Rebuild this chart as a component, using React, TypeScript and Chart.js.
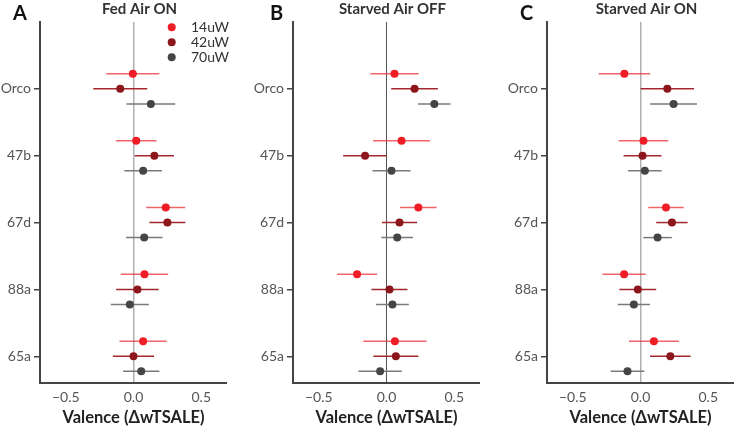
import React, { useEffect, useRef } from "react";
import { Chart, registerables } from "chart.js";

Chart.register(...registerables);

const categories = ["Orco", "47b", "67d", "88a", "65a"];
const seriesLabels = ["14uW", "42uW", "70uW"];
const xTicks = [-0.5, 0, 0.5];

// Panel A: Fed Air ON
const fedOn14Mean = [-0.005, 0.02, 0.238, 0.081, 0.071];
const fedOn14Err = [0.196, 0.15, 0.144, 0.175, 0.174];
const fedOn42Mean = [-0.098, 0.154, 0.25, 0.029, 0.0];
const fedOn42Err = [0.199, 0.145, 0.133, 0.157, 0.152];
const fedOn70Mean = [0.128, 0.071, 0.079, -0.027, 0.057];
const fedOn70Err = [0.18, 0.139, 0.135, 0.14, 0.134];

// Panel B: Starved Air OFF
const starvedOff14Mean = [0.059, 0.111, 0.235, -0.217, 0.062];
const starvedOff14Err = [0.178, 0.21, 0.135, 0.148, 0.234];
const starvedOff42Mean = [0.207, -0.158, 0.096, 0.022, 0.069];
const starvedOff42Err = [0.172, 0.162, 0.13, 0.133, 0.166];
const starvedOff70Mean = [0.353, 0.037, 0.079, 0.044, -0.047];
const starvedOff70Err = [0.12, 0.14, 0.117, 0.121, 0.16];

// Panel C: Starved Air ON
const starvedOn14Mean = [-0.119, 0.022, 0.188, -0.121, 0.099];
const starvedOn14Err = [0.19, 0.183, 0.131, 0.16, 0.184];
const starvedOn42Mean = [0.198, 0.015, 0.232, -0.02, 0.22];
const starvedOn42Err = [0.197, 0.14, 0.116, 0.136, 0.15];
const starvedOn70Mean = [0.244, 0.032, 0.126, -0.049, -0.096];
const starvedOn70Err = [0.173, 0.124, 0.105, 0.119, 0.124];

const FONT = 'Lato, "Noto Sans", sans-serif';
const pointColors = ["#ee1d26", "#8c161b", "#454545"];
const barColors = ["rgba(236,40,48,0.72)", "#a3282d", "#7a7a7a"];
const yOffsets = [-0.225, 0, 0.225];

const errorBarPlugin = {
  id: "errorBars",
  beforeDatasetsDraw(chart: any) {
    const { ctx } = chart;
    const x = chart.scales.x;
    const y = chart.scales.y;
    chart.data.datasets.forEach((ds: any, i: number) => {
      const meta = chart.getDatasetMeta(i);
      if (meta.hidden) return;
      ctx.save();
      ctx.strokeStyle = ds.errorColor;
      ctx.lineWidth = 1.5;
      ds.data.forEach((p: any) => {
        const py = y.getPixelForValue(p.y);
        ctx.beginPath();
        ctx.moveTo(x.getPixelForValue(p.x - p.err), py);
        ctx.lineTo(x.getPixelForValue(p.x + p.err), py);
        ctx.stroke();
      });
      ctx.restore();
    });
  },
};

const decoPlugin = {
  id: "panelDeco",
  afterDraw(chart: any, _args: any, opts: any) {
    const { ctx, chartArea } = chart;
    ctx.save();
    ctx.fillStyle = "#111";
    ctx.font = `bold 20px ${FONT}`;
    ctx.textBaseline = "middle";
    ctx.textAlign = "left";
    ctx.fillText(opts.letter, opts.letterX, 14);
    ctx.fillStyle = "#333";
    ctx.font = `bold 15px ${FONT}`;
    ctx.textAlign = "center";
    ctx.fillText(opts.title, (chartArea.left + chartArea.right) / 2 + 6, 9);
    if (opts.legend) {
      ctx.font = `14px ${FONT}`;
      ctx.textAlign = "left";
      chart.data.datasets.forEach((ds: any, i: number) => {
        const cy = 27.3 + 15 * i;
        ctx.fillStyle = ds.backgroundColor;
        ctx.beginPath();
        ctx.arc(chartArea.left + 131.7, cy, 4, 0, Math.PI * 2);
        ctx.fill();
        ctx.fillStyle = "#333";
        ctx.fillText(ds.label, chartArea.left + 151, cy + 0.5);
      });
    }
    ctx.restore();
  },
};

function buildData(means: number[][], errs: number[][]) {
  return seriesLabels.map((label, s) => ({
    label,
    data: categories.map((_, i) => ({
      x: means[s][i],
      y: i + yOffsets[s],
      err: errs[s][i],
    })),
    backgroundColor: pointColors[s],
    borderColor: pointColors[s],
    pointRadius: 4,
    pointBorderWidth: 0,
    pointHoverRadius: 4,
    errorColor: barColors[s],
    showLine: false,
  }));
}

const panels = [
  {
    key: "A",
    letter: "A",
    letterX: 13,
    left: 0,
    title: "Fed Air ON",
    zeroColor: "#b0b0b0",
    zeroWidth: 1.5,
    legend: true,
    means: [fedOn14Mean, fedOn42Mean, fedOn70Mean],
    errs: [fedOn14Err, fedOn42Err, fedOn70Err],
  },
  {
    key: "B",
    letter: "B",
    letterX: 17,
    left: 253,
    title: "Starved Air OFF",
    zeroColor: "#555555",
    zeroWidth: 1,
    legend: false,
    means: [starvedOff14Mean, starvedOff42Mean, starvedOff70Mean],
    errs: [starvedOff14Err, starvedOff42Err, starvedOff70Err],
  },
  {
    key: "C",
    letter: "C",
    letterX: 13,
    left: 507,
    title: "Starved Air ON",
    zeroColor: "#b0b0b0",
    zeroWidth: 1.5,
    legend: false,
    means: [starvedOn14Mean, starvedOn42Mean, starvedOn70Mean],
    errs: [starvedOn14Err, starvedOn42Err, starvedOn70Err],
  },
];

const CW = 245;

function Panel({ p }: { p: any }) {
  const ref = useRef<HTMLCanvasElement>(null);
  useEffect(() => {
    if (!ref.current) return;
    const chart = new Chart(ref.current, {
      type: "scatter",
      data: { datasets: buildData(p.means, p.errs) as any },
      options: {
        animation: false,
        responsive: false,
        layout: { padding: { top: 22, left: 0, right: 18, bottom: 0 } },
        plugins: {
          legend: { display: false },
          tooltip: { enabled: false },
          title: { display: false },
          panelDeco: { letter: p.letter, letterX: p.letterX, title: p.title, legend: p.legend },
        } as any,
        scales: {
          x: {
            type: "linear",
            min: -0.69,
            max: 0.69,
            afterBuildTicks: (scale: any) => {
              scale.ticks = xTicks.map((v) => ({ value: v }));
            },
            afterFit: (scale: any) => {
              scale.height = 47;
            },
            ticks: {
              color: "#555",
              font: { family: FONT, size: 14 },
              padding: 6,
              callback: (v: any) =>
                v === 0 ? "0.0" : (v < 0 ? "\u2212" : "") + Math.abs(v).toFixed(1),
            },
            grid: {
              drawTicks: false,
              color: (c: any) => (c.tick && c.tick.value === 0 ? p.zeroColor : "rgba(0,0,0,0)"),
              lineWidth: (c: any) => (c.tick && c.tick.value === 0 ? p.zeroWidth : 0),
            },
            border: { display: true, color: "#444", width: 2 },
            title: {
              display: true,
              text: "Valence (\u0394wTSALE)",
              color: "#222",
              font: { family: FONT, size: 16.5, weight: "bold" },
              padding: { top: 0, bottom: 2 },
            },
          },
          y: {
            type: "linear",
            reverse: true,
            min: -1,
            max: 4.4,
            afterBuildTicks: (scale: any) => {
              scale.ticks = categories.map((_, i) => ({ value: i }));
            },
            afterFit: (scale: any) => {
              scale.width = 40;
            },
            ticks: {
              color: "#555",
              font: { family: FONT, size: 14 },
              padding: 3,
              callback: (v: any) => categories[v] ?? "",
            },
            grid: {
              drawOnChartArea: false,
              drawTicks: true,
              tickLength: 6,
              tickColor: "#444",
              lineWidth: 1.5,
            },
            border: { display: true, color: "#444", width: 2 },
          },
        },
      },
      plugins: [errorBarPlugin, decoPlugin],
    });
    return () => chart.destroy();
  }, []);
  return (
    <div style={{ position: "absolute", left: p.left, top: 0, width: CW, height: 430 }}>
      <canvas ref={ref} width={CW} height={430} style={{ width: CW, height: 430 }} />
    </div>
  );
}

export default function App() {
  return (
    <div
      style={{
        position: "fixed",
        left: 0,
        top: 0,
        width: 734,
        height: 430,
        background: "#fff",
        overflow: "hidden",
      }}
    >
      {panels.map((p) => (
        <Panel key={p.key} p={p} />
      ))}
    </div>
  );
}
